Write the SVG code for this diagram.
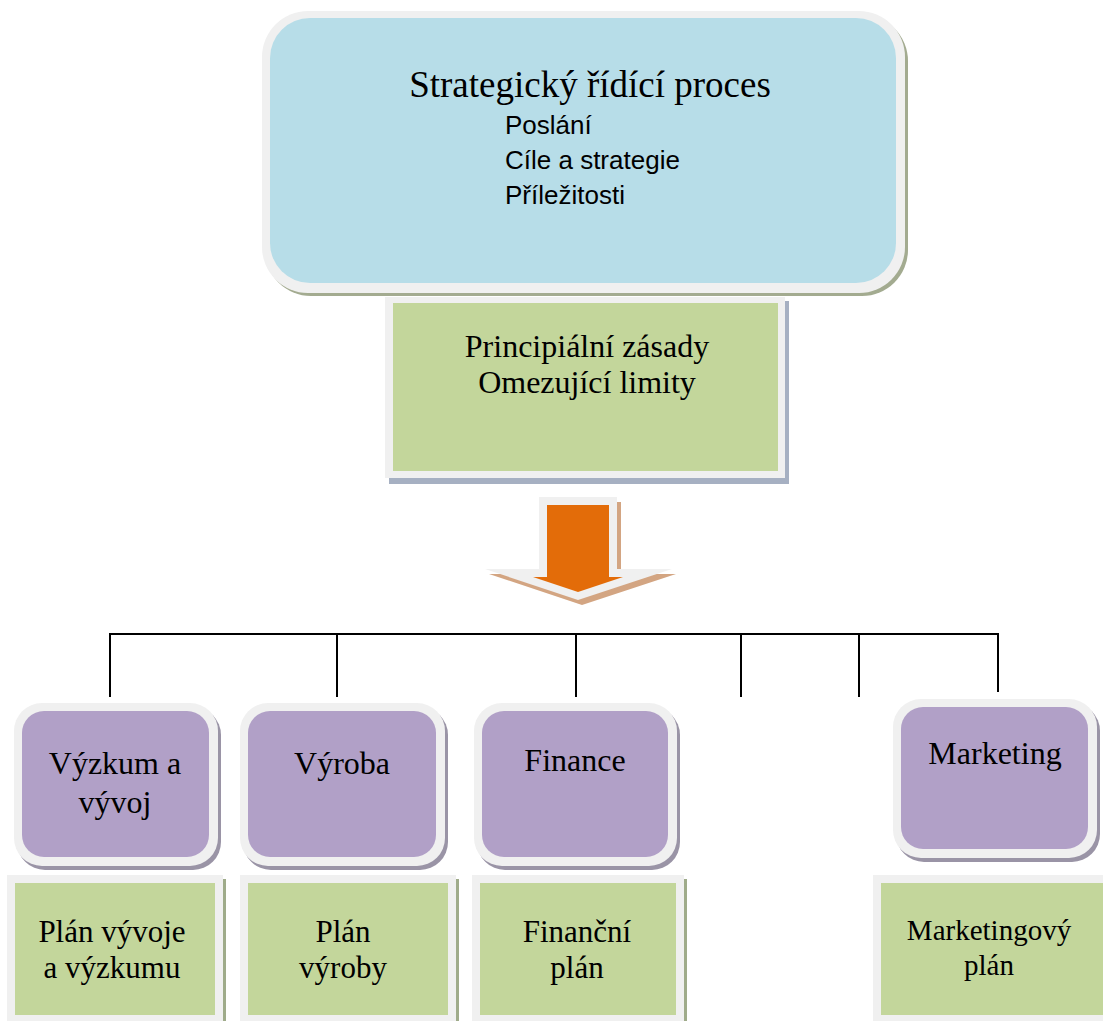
<svg xmlns="http://www.w3.org/2000/svg" width="1103" height="1021" viewBox="0 0 1103 1021">
  <style>
    .frame { fill: #f0f0f0; }
    .serif { font-family: "Liberation Serif", "Times New Roman", serif; fill: #000; text-anchor: middle; }
    .sans { font-family: "Liberation Sans", Arial, sans-serif; fill: #000; }
    .blue { fill: #b7dde8; }
    .green { fill: #c3d69b; }
    .purple { fill: #b1a0c7; }
    .sh-purple { fill: #9a94a6; }
    .sh-green { fill: #9fab8a; }
    .conn { stroke: #000; stroke-width: 2; fill: none; }
  </style>
  <rect width="1103" height="1021" fill="#fff"/>

  <!-- top process box -->
  <g id="strategic-process">
    <rect x="265" y="15" width="643" height="281" rx="46" fill="#a3ab90"/>
    <rect class="frame" x="262" y="11" width="643" height="282" rx="46"/>
    <rect class="blue" x="270" y="18" width="626" height="265" rx="40"/>
    <text class="serif" x="590" y="97" font-size="37">Strategický řídící proces</text>
    <text class="sans" x="505" y="134" font-size="26">Poslání</text>
    <text class="sans" x="505" y="169" font-size="26">Cíle a strategie</text>
    <text class="sans" x="505" y="204" font-size="26">Příležitosti</text>
  </g>

  <!-- principles box -->
  <g id="principles">
    <rect x="389" y="301" width="400" height="183" fill="#a6b0c2"/>
    <rect class="frame" x="385" y="297" width="400" height="181"/>
    <rect class="green" x="393" y="303" width="385" height="168"/>
    <text class="serif" x="587" y="357" font-size="32">Principiální zásady</text>
    <text class="serif" x="587" y="393" font-size="32">Omezující limity</text>
  </g>

  <!-- block arrow -->
  <g id="down-arrow">
    <polygon points="543,502 621,502 621,574 676,574 582,605 489,574 543,574" fill="#d3a582"/>
    <polygon class="frame" points="539,497 617,497 617,569 672,569 578,600 485,569 539,569"/>
    <polygon points="547,505 609,505 609,577 623,577 578,592 533,577 547,577" fill="#e36c09"/>
  </g>

  <!-- connectors -->
  <g id="connectors">
    <line class="conn" x1="109" y1="634" x2="999" y2="634"/>
    <line class="conn" x1="110" y1="634" x2="110" y2="697"/>
    <line class="conn" x1="337" y1="634" x2="337" y2="697"/>
    <line class="conn" x1="576" y1="634" x2="576" y2="697"/>
    <line class="conn" x1="741" y1="634" x2="741" y2="697"/>
    <line class="conn" x1="859" y1="634" x2="859" y2="697"/>
    <line class="conn" x1="998" y1="634" x2="998" y2="692"/>
  </g>

  <!-- departments -->
  <g id="research">
    <rect class="sh-purple" x="17" y="707" width="204" height="163" rx="28"/>
    <rect class="frame" x="14" y="703" width="204" height="163" rx="28"/>
    <rect class="purple" x="22" y="711" width="187" height="146" rx="22"/>
    <text class="serif" x="115" y="774" font-size="32">Výzkum a</text>
    <text class="serif" x="115" y="813" font-size="32">vývoj</text>
  </g>
  <g id="production">
    <rect class="sh-purple" x="243" y="707" width="205" height="163" rx="28"/>
    <rect class="frame" x="240" y="703" width="205" height="163" rx="28"/>
    <rect class="purple" x="248" y="711" width="188" height="146" rx="22"/>
    <text class="serif" x="342" y="774" font-size="32">Výroba</text>
  </g>
  <g id="finance">
    <rect class="sh-purple" x="477" y="707" width="203" height="163" rx="28"/>
    <rect class="frame" x="474" y="703" width="203" height="163" rx="28"/>
    <rect class="purple" x="482" y="711" width="186" height="146" rx="22"/>
    <text class="serif" x="575" y="771" font-size="32">Finance</text>
  </g>
  <g id="marketing">
    <rect class="sh-purple" x="896" y="703" width="204" height="159" rx="28"/>
    <rect class="frame" x="893" y="699" width="204" height="159" rx="28"/>
    <rect class="purple" x="901" y="707" width="187" height="142" rx="22"/>
    <text class="serif" x="995" y="764" font-size="32">Marketing</text>
  </g>

  <!-- plans -->
  <g id="research-plan">
    <rect class="sh-green" x="10" y="879" width="216" height="146"/>
    <rect class="frame" x="7" y="875" width="216" height="146"/>
    <rect class="green" x="15" y="883" width="200" height="132"/>
    <text class="serif" x="112" y="942" font-size="31">Plán vývoje</text>
    <text class="serif" x="112" y="978" font-size="31">a výzkumu</text>
  </g>
  <g id="production-plan">
    <rect class="sh-green" x="243" y="879" width="216" height="146"/>
    <rect class="frame" x="240" y="875" width="216" height="146"/>
    <rect class="green" x="248" y="883" width="200" height="132"/>
    <text class="serif" x="343" y="942" font-size="31">Plán</text>
    <text class="serif" x="343" y="978" font-size="31">výroby</text>
  </g>
  <g id="finance-plan">
    <rect class="sh-green" x="475" y="879" width="212" height="146"/>
    <rect class="frame" x="472" y="875" width="212" height="146"/>
    <rect class="green" x="480" y="883" width="196" height="132"/>
    <text class="serif" x="577" y="942" font-size="31">Finanční</text>
    <text class="serif" x="577" y="978" font-size="31">plán</text>
  </g>
  <g id="marketing-plan">
    <rect class="frame" x="873" y="875" width="230" height="146"/>
    <rect class="green" x="881" y="883" width="222" height="132"/>
    <text class="serif" x="989" y="940" font-size="29">Marketingový</text>
    <text class="serif" x="989" y="975" font-size="29">plán</text>
  </g>
</svg>
